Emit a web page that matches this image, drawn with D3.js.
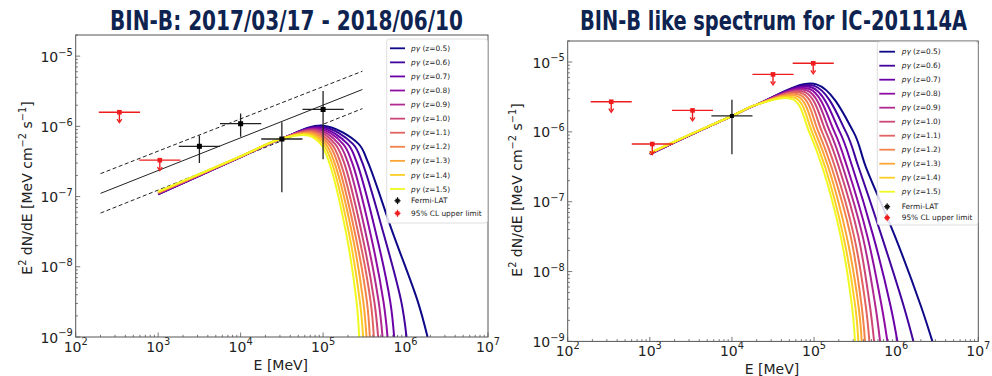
<!DOCTYPE html>
<html>
<head>
<meta charset="UTF-8">
<title>BIN-B spectra</title>
<script src="https://cdn.jsdelivr.net/npm/d3@7"></script>
<style>
  body { margin: 0; background: #fff; }
  svg text { font-family: "DejaVu Sans", sans-serif; fill: #222; }
  .title { font-family: "DejaVu Sans Condensed", "DejaVu Sans", sans-serif; font-weight: bold; font-stretch: condensed; fill: #0e2350 !important; }
  .frame { fill: none; stroke: #555; stroke-width: 1; }
  .tick { stroke: #555; stroke-width: 0.8; }
  .model { fill: none; stroke-width: 2; stroke-linejoin: round; }
  .fit { fill: none; stroke: #222; stroke-width: 1; }
  .legend text { font-size: 7.4px; }
</style>
</head>
<body>
<svg id="chart" width="992" height="376"></svg>
<script>
// ---- data (log10 values where noted) ----
const redshifts = [0.5, 0.6, 0.7, 0.8, 0.9, 1.0, 1.1, 1.2, 1.3, 1.4, 1.5];

// left panel: BIN-B 2017/03/17 - 2018/06/10
const leftFermiE = [3.5, 4.0, 4.5, 5.0];               // log10 E, bin half-width 0.25
const leftFermiF = [5.2e-7, 1.09e-6, 6.6e-7, 1.74e-6];
const leftFermiLo = [3.0e-7, 7.1e-7, 1.15e-7, 3.4e-7];
const leftFermiHi = [7.4e-7, 1.52e-6, 1.14e-6, 3.2e-6];
const leftUlE = [2.53, 3.02];
const leftUlF = [1.59e-6, 3.3e-7];
const fitE = [200, 3e5];
const fitMid = [1.11e-7, 3.35e-6];
const fitUp = [2.12e-7, 6.1e-6];
const fitLow = [5.82e-8, 1.79e-6];

// left model curves: rising part (log10 E -> log10 F per redshift)
const leftRiseE = [3.0, 3.5, 4.0, 4.5];
const leftRiseF = [
  [-6.970, -6.966, -6.962, -6.958, -6.954, -6.950, -6.946, -6.942, -6.938, -6.934, -6.930],
  [-6.705, -6.702, -6.700, -6.697, -6.694, -6.692, -6.689, -6.686, -6.683, -6.681, -6.678],
  [-6.439, -6.438, -6.436, -6.435, -6.434, -6.433, -6.431, -6.430, -6.429, -6.427, -6.426],
  [-6.174, -6.174, -6.174, -6.174, -6.174, -6.174, -6.174, -6.174, -6.174, -6.174, -6.174]
];
const leftPeakE = [5.0, 4.982, 4.964, 4.946, 4.928, 4.91, 4.892, 4.874, 4.856, 4.838, 4.82];
const leftPeakF = [-5.99, -6.004, -6.018, -6.032, -6.046, -6.06, -6.074, -6.088, -6.102, -6.116, -6.13];
const leftCutLevels = [-6.25, -6.5, -7.5, -8.5, -9.0];
const leftCutE = [
  [5.43, 5.361, 5.297, 5.241, 5.191, 5.145, 5.103, 5.067, 5.032, 5.0, 4.97],
  [5.54, 5.470, 5.404, 5.347, 5.296, 5.249, 5.206, 5.169, 5.133, 5.101, 5.07],
  [5.84, 5.727, 5.637, 5.569, 5.513, 5.465, 5.423, 5.383, 5.347, 5.310, 5.276],
  [6.15, 5.949, 5.815, 5.733, 5.674, 5.622, 5.577, 5.532, 5.488, 5.447, 5.406],
  [6.267, 6.012, 5.862, 5.782, 5.721, 5.668, 5.616, 5.567, 5.527, 5.486, 5.438]
];

// right panel: BIN-B like spectrum for IC-201114A
const rightFermiE = [4.0];
const rightFermiF = [1.69e-6];
const rightFermiLo = [4.78e-7];
const rightFermiHi = [2.89e-6];
const rightUlE = [2.53, 3.03, 3.52, 4.5, 4.99];
const rightUlF = [2.7e-6, 6.7e-7, 2.03e-6, 6.65e-6, 9.6e-6];

const rightRiseE = [3.0, 3.5, 4.0, 4.3];
const rightRiseF = [
  [-6.321, -6.319, -6.317, -6.315, -6.313, -6.311, -6.309, -6.307, -6.305, -6.303, -6.301],
  [-6.042, -6.041, -6.040, -6.039, -6.038, -6.037, -6.036, -6.035, -6.034, -6.033, -6.032],
  [-5.773, -5.773, -5.773, -5.773, -5.773, -5.773, -5.773, -5.773, -5.773, -5.773, -5.773],
  [-5.610, -5.610, -5.610, -5.610, -5.610, -5.610, -5.610, -5.610, -5.610, -5.610, -5.610]
];
const rightPeakE = [5.03, 5.002, 4.974, 4.946, 4.918, 4.89, 4.862, 4.834, 4.806, 4.778, 4.75];
const rightPeakF = [-5.32, -5.342, -5.364, -5.386, -5.408, -5.43, -5.452, -5.474, -5.496, -5.518, -5.54];
const rightCutLevels = [-6.0, -6.5, -7.5, -8.5, -9.0];
const rightCutE = [
  [5.48, 5.388, 5.313, 5.248, 5.194, 5.145, 5.097, 5.053, 5.013, 4.975, 4.94],
  [5.63, 5.540, 5.466, 5.402, 5.349, 5.301, 5.254, 5.211, 5.172, 5.134, 5.10],
  [5.987, 5.825, 5.723, 5.650, 5.593, 5.540, 5.488, 5.447, 5.398, 5.358, 5.325],
  [6.303, 6.093, 5.933, 5.824, 5.748, 5.681, 5.630, 5.580, 5.542, 5.502, 5.462],
  [6.441, 6.210, 6.015, 5.893, 5.804, 5.731, 5.674, 5.621, 5.581, 5.540, 5.499]
];

const xDecades = [2, 3, 4, 5, 6, 7];
const yDecades = [-9, -8, -7, -6, -5];
const pow10 = v => Math.pow(10, v);

const svg = d3.select("#chart");

function modelPoints(riseE, riseF, peakE, peakF, levels, cutE, i) {
  const pts = riseE.map((e, k) => [pow10(e), pow10(riseF[k][i])]);
  pts.push([pow10(peakE[i]), pow10(peakF[i])]);
  levels.forEach((lv, k) => pts.push([pow10(cutE[k][i]), pow10(lv)]));
  return pts;
}

function sup(sel, base, exp, size) {
  sel.append("tspan").text(base);
  sel.append("tspan").attr("font-size", size).attr("dy", -size * 0.62).text(exp);
}

function drawPanel(p) {
  const x = d3.scaleLog().domain([1e2, 1e7]).range(p.xr);
  const y = d3.scaleLog().domain([1e-9, 2e-5]).range(p.yr);
  const g = svg.append("g");
  const clipId = "clip" + p.id;
  svg.append("clipPath").attr("id", clipId).append("rect")
    .attr("x", p.xr[0]).attr("y", p.yr[1])
    .attr("width", p.xr[1] - p.xr[0]).attr("height", p.yr[0] - p.yr[1]);

  // title
  g.append("text").attr("class", "title")
    .attr("x", p.titleX).attr("y", p.titleY).attr("text-anchor", "middle")
    .attr("font-size", 27).attr("textLength", p.titleW).attr("lengthAdjust", "spacingAndGlyphs")
    .text(p.title);

  // ticks
  const ticks = g.append("g");
  xDecades.forEach(d => {
    ticks.append("line").attr("class", "tick")
      .attr("x1", x(pow10(d))).attr("x2", x(pow10(d)))
      .attr("y1", p.yr[0]).attr("y2", p.yr[0] - 4.5);
    if (d < 7) d3.range(2, 10).forEach(m => {
      const xv = x(m * pow10(d));
      ticks.append("line").attr("class", "tick").attr("x1", xv).attr("x2", xv)
        .attr("y1", p.yr[0]).attr("y2", p.yr[0] - 2.2);
    });
    const t = ticks.append("text").attr("x", x(pow10(d))).attr("y", p.xLabY)
      .attr("text-anchor", "middle").attr("font-size", 14);
    sup(t, "10", String(d), 9.8);
  });
  yDecades.forEach(d => {
    ticks.append("line").attr("class", "tick")
      .attr("x1", p.xr[0]).attr("x2", p.xr[0] + 4.5)
      .attr("y1", y(pow10(d))).attr("y2", y(pow10(d)));
    d3.range(1, 10).forEach(m => {
      const v = m * pow10(d);
      if (m === 1 || v > 2e-5) return;
      ticks.append("line").attr("class", "tick").attr("x1", p.xr[0]).attr("x2", p.xr[0] + 2.2)
        .attr("y1", y(v)).attr("y2", y(v));
    });
    const t = ticks.append("text").attr("x", p.xr[0] - 3).attr("y", y(pow10(d)) + 5.5)
      .attr("text-anchor", "end").attr("font-size", 14);
    sup(t, "10", "\u2212" + Math.abs(d), 9.8);
  });

  // axis labels
  g.append("text").attr("x", (p.xr[0] + p.xr[1]) / 2 - 1).attr("y", p.xTitleY)
    .attr("text-anchor", "middle").attr("font-size", 14).text("E [MeV]");
  const yl = g.append("text").attr("text-anchor", "middle").attr("font-size", 14)
    .attr("transform", `translate(${p.yTitleX},${p.yTitleY}) rotate(-90)`);
  yl.append("tspan").text("E");
  yl.append("tspan").attr("font-size", 9.8).attr("dy", -6).text("2");
  yl.append("tspan").attr("dy", 6).text(" dN/dE [MeV cm");
  yl.append("tspan").attr("font-size", 9.8).attr("dy", -6).text("\u22122");
  yl.append("tspan").attr("dy", 6).text(" s");
  yl.append("tspan").attr("font-size", 9.8).attr("dy", -6).text("\u22121");
  yl.append("tspan").attr("dy", 6).text("]");

  const plot = g.append("g").attr("clip-path", `url(#${clipId})`);

  // fermi fit lines
  if (p.fit) {
    const fl = d3.line().x(d => x(d[0])).y(d => y(d[1]));
    [[fitUp, "4,2.5"], [fitMid, null], [fitLow, "4,2.5"]].forEach(([arr, dash]) => {
      plot.append("path").attr("class", "fit")
        .attr("d", fl(fitE.map((e, k) => [e, arr[k]])))
        .attr("stroke-dasharray", dash);
    });
  }

  // model curves
  const line = d3.line().x(d => x(d[0])).y(d => y(d[1])).curve(d3.curveCatmullRom.alpha(0.5));
  redshifts.forEach((z, i) => {
    plot.append("path").attr("class", "model")
      .attr("stroke", d3.interpolatePlasma(i / 10))
      .attr("d", line(p.curve(i)));
  });

  // upper limits
  const red = "#ee1c1c";
  p.ulE.forEach((e, k) => {
    const cx = x(pow10(e)), cy = y(p.ulF[k]);
    plot.append("line").attr("x1", x(pow10(e - 0.25))).attr("x2", x(pow10(e + 0.25)))
      .attr("y1", cy).attr("y2", cy).attr("stroke", red).attr("stroke-width", 1.4);
    plot.append("line").attr("x1", cx).attr("x2", cx).attr("y1", cy).attr("y2", cy + 9)
      .attr("stroke", red).attr("stroke-width", 1.4);
    plot.append("path").attr("d", `M${cx - 2.4},${cy + 7} L${cx},${cy + 10.5} L${cx + 2.4},${cy + 7}`)
      .attr("fill", "none").attr("stroke", red).attr("stroke-width", 1.3);
    plot.append("rect").attr("x", cx - 2.3).attr("y", cy - 2.3).attr("width", 4.6).attr("height", 4.6)
      .attr("fill", red);
  });

  // fermi points
  p.fE.forEach((e, k) => {
    const cx = x(pow10(e)), cy = y(p.fF[k]);
    plot.append("line").attr("x1", x(pow10(e - 0.25))).attr("x2", x(pow10(e + 0.25)))
      .attr("y1", cy).attr("y2", cy).attr("stroke", "#222").attr("stroke-width", 1.3);
    plot.append("line").attr("x1", cx).attr("x2", cx).attr("y1", y(p.fHi[k])).attr("y2", y(p.fLo[k]))
      .attr("stroke", "#222").attr("stroke-width", 1.3);
    plot.append("rect").attr("x", cx - p.msize / 2).attr("y", cy - p.msize / 2)
      .attr("width", p.msize).attr("height", p.msize).attr("fill", "#000");
  });

  // frame
  g.append("rect").attr("class", "frame")
    .attr("x", p.xr[0]).attr("y", p.yr[1])
    .attr("width", p.xr[1] - p.xr[0]).attr("height", p.yr[0] - p.yr[1]);

  // legend
  const lg = g.append("g").attr("class", "legend");
  lg.append("rect").attr("x", p.lg.x).attr("y", p.lg.y).attr("width", p.lg.w).attr("height", p.lg.h)
    .attr("rx", 2.5).attr("fill", "#fff").attr("fill-opacity", 0.85)
    .attr("stroke", "#d6d6d6").attr("stroke-width", 0.8);
  redshifts.forEach((z, i) => {
    const ry = p.lg.row0 + i * p.lg.dy;
    lg.append("line").attr("x1", p.lg.l0).attr("x2", p.lg.l1).attr("y1", ry).attr("y2", ry)
      .attr("stroke", d3.interpolatePlasma(i / 10)).attr("stroke-width", 1.8);
    const t = lg.append("text").attr("x", p.lg.tx).attr("y", ry).attr("dy", "0.35em");
    t.append("tspan").attr("font-style", "italic").text("p\u03b3");
    t.append("tspan").text(" (z=" + z.toFixed(1) + ")");
  });
  const mx = (p.lg.l0 + p.lg.l1) / 2;
  [[p.lg.fermiY, "#111", "Fermi-LAT"], [p.lg.ulY, red, "95% CL upper limit"]].forEach(([ry, c, label]) => {
    lg.append("line").attr("x1", mx - 3).attr("x2", mx + 3).attr("y1", ry).attr("y2", ry).attr("stroke", c).attr("stroke-width", 1.2);
    lg.append("line").attr("x1", mx).attr("x2", mx).attr("y1", ry - 3.5).attr("y2", ry + 3.5).attr("stroke", c).attr("stroke-width", 1.2);
    lg.append("rect").attr("x", mx - 2).attr("y", ry - 2).attr("width", 4).attr("height", 4).attr("fill", c);
    lg.append("text").attr("x", p.lg.tx).attr("y", ry).attr("dy", "0.35em").text(label);
  });
}

drawPanel({
  id: "L", xr: [75.7, 488], yr: [337, 35],
  title: "BIN-B: 2017/03/17 - 2018/06/10", titleX: 286.5, titleY: 30, titleW: 353,
  xLabY: 351.5, xTitleY: 370, yTitleX: 32, yTitleY: 188,
  fit: true, msize: 5,
  fE: leftFermiE, fF: leftFermiF, fLo: leftFermiLo, fHi: leftFermiHi,
  ulE: leftUlE, ulF: leftUlF,
  curve: i => modelPoints(leftRiseE, leftRiseF, leftPeakE, leftPeakF, leftCutLevels, leftCutE, i),
  lg: { x: 386.7, y: 39, w: 100.8, h: 184, row0: 48.3, dy: 14.07, l0: 390, l1: 405, tx: 411, fermiY: 200.7, ulY: 213.3 }
});

drawPanel({
  id: "R", xr: [567.7, 978.3], yr: [341.4, 41],
  title: "BIN-B like spectrum for IC-201114A", titleX: 773.5, titleY: 30, titleW: 387,
  xLabY: 355.5, xTitleY: 373.5, yTitleX: 522, yTitleY: 190,
  fit: false, msize: 4,
  fE: rightFermiE, fF: rightFermiF, fLo: rightFermiLo, fHi: rightFermiHi,
  ulE: rightUlE, ulF: rightUlF,
  curve: i => modelPoints(rightRiseE, rightRiseF, rightPeakE, rightPeakF, rightCutLevels, rightCutE, i),
  lg: { x: 877.3, y: 41.7, w: 100.5, h: 183.3, row0: 51.7, dy: 14, l0: 879.3, l1: 895, tx: 901.7, fermiY: 206.7, ulY: 217.7 }
});
</script>
</body>
</html>
